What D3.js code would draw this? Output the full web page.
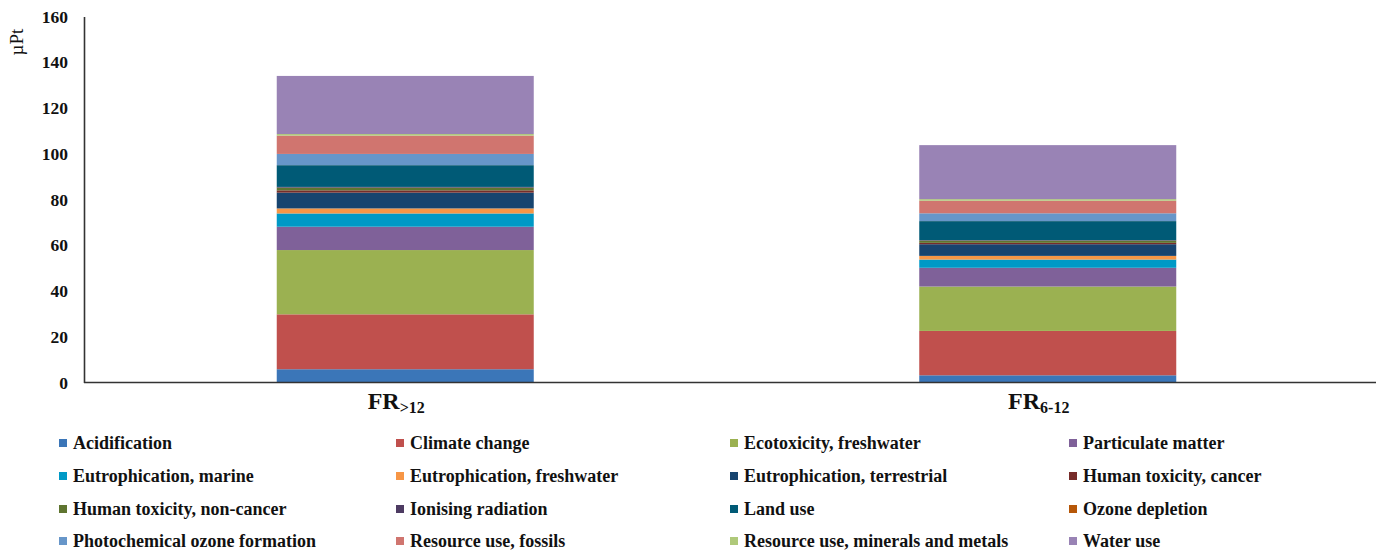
<!DOCTYPE html>
<html>
<head>
<meta charset="utf-8">
<script src="https://cdn.jsdelivr.net/npm/d3@7/dist/d3.min.js"></script>
<style>
  html, body { margin: 0; padding: 0; background: #fff; }
  svg { display: block; }
</style>
</head>
<body>
<svg id="chart" width="1376" height="550"></svg>
<script>
// Scenario labels (main text + subscript)
const scenarios = ["FR>12", "FR6-12"];
const scenarioMain = ["FR", "FR"];
const scenarioSub = [">12", "6-12"];

// Impact categories, stacked bottom to top
const categories = [
  "Acidification", "Climate change", "Ecotoxicity, freshwater", "Particulate matter",
  "Eutrophication, marine", "Eutrophication, freshwater", "Eutrophication, terrestrial", "Human toxicity, cancer",
  "Human toxicity, non-cancer", "Ionising radiation", "Land use", "Ozone depletion",
  "Photochemical ozone formation", "Resource use, fossils", "Resource use, minerals and metals", "Water use"
];

// Weighted results (µPt) per category
const valuesFR12 = [5.8, 24.0, 28.1, 10.2, 5.8, 2.2, 6.9, 1.0, 1.2, 0.3, 9.5, 0.02, 4.9, 8.0, 0.7, 25.4];
const valuesFR612 = [3.15, 19.4, 19.4, 8.2, 3.6, 1.6, 5.1, 0.6, 1.0, 0.2, 8.3, 0.02, 3.4, 5.5, 0.7, 23.6];

const colors = [
  "#3B76B8", "#C0504D", "#9BB151", "#7F6199",
  "#0099C6", "#F79646", "#17446F", "#772C2A",
  "#5F7530", "#4D3B62", "#005A76", "#B65708",
  "#6796C9", "#D0756F", "#AFC97A", "#9983B5"
];

const yTicks = [0, 20, 40, 60, 80, 100, 120, 140, 160];

const svg = d3.select("#chart");
const serif = "'Liberation Serif', 'Times New Roman', serif";

const rows = scenarios.map((s, i) => {
  const r = { scenario: s };
  const vals = i === 0 ? valuesFR12 : valuesFR612;
  categories.forEach((c, j) => { r[c] = vals[j]; });
  return r;
});

const x = d3.scaleBand()
  .domain(scenarios)
  .range([84, 1369])
  .paddingInner(0.6)
  .paddingOuter(0.3);

const y = d3.scaleLinear().domain([0, 160]).range([382.5, 16.5]);

const color = d3.scaleOrdinal().domain(categories).range(colors);

const stacked = d3.stack().keys(categories)(rows);

// Bars
svg.append("g")
  .selectAll("g")
  .data(stacked)
  .join("g")
  .attr("fill", d => color(d.key))
  .selectAll("rect")
  .data(d => d)
  .join("rect")
  .attr("x", d => x(d.data.scenario))
  .attr("width", x.bandwidth())
  .attr("y", d => y(d[1]))
  .attr("height", d => y(d[0]) - y(d[1]));

// Y axis
const yAxis = svg.append("g")
  .attr("transform", "translate(84,0)")
  .call(d3.axisLeft(y).tickValues(yTicks).tickSize(0).tickPadding(16));
yAxis.select(".domain").attr("stroke", "#333").attr("stroke-width", 1.6);
yAxis.selectAll("text")
  .attr("font-family", serif)
  .attr("font-weight", "bold")
  .attr("font-size", 17.5)
  .attr("fill", "#111");

// X baseline
svg.append("line")
  .attr("x1", 84).attr("x2", 1376)
  .attr("y1", y(0)).attr("y2", y(0))
  .attr("stroke", "#333").attr("stroke-width", 1.6);

// Y axis title
svg.append("text")
  .attr("transform", "translate(23,42) rotate(-90)")
  .attr("text-anchor", "middle")
  .attr("font-family", serif)
  .attr("font-size", 19)
  .attr("fill", "#111")
  .text("µPt");

// Category labels with subscript
scenarios.forEach((s, i) => {
  const t = svg.append("text")
    .attr("x", x(s) + x.bandwidth() / 2 - 9)
    .attr("y", 409)
    .attr("text-anchor", "middle")
    .attr("font-family", serif)
    .attr("font-weight", "bold")
    .attr("font-size", 24)
    .attr("fill", "#111");
  t.append("tspan").text(scenarioMain[i]);
  t.append("tspan")
    .attr("font-size", 16)
    .attr("dy", 4)
    .text(scenarioSub[i]);
});

// Legend: 4 columns x 4 rows
const legendCols = [59, 396, 730, 1069];
const legendRows = [443, 476, 509, 541];
const legend = svg.append("g");
categories.forEach((c, i) => {
  const cx = legendCols[i % 4];
  const cy = legendRows[Math.floor(i / 4)];
  legend.append("rect")
    .attr("x", cx).attr("y", cy - 4)
    .attr("width", 8).attr("height", 8)
    .attr("fill", color(c));
  legend.append("text")
    .attr("x", cx + 14).attr("y", cy)
    .attr("dominant-baseline", "central")
    .attr("font-family", serif)
    .attr("font-weight", "bold")
    .attr("font-size", 18)
    .attr("fill", "#111")
    .text(c);
});
</script>
</body>
</html>
